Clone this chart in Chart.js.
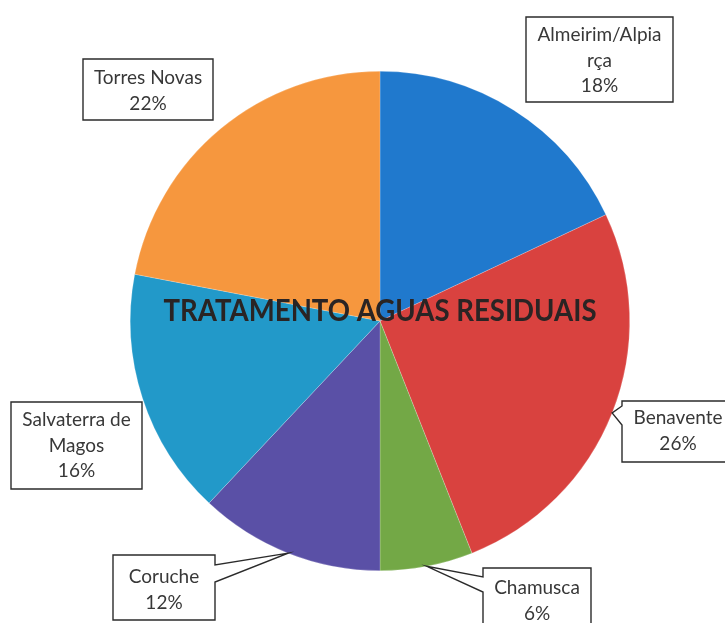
<!DOCTYPE html>
<html>
<head>
<meta charset="utf-8">
<script src="https://cdn.jsdelivr.net/npm/chart.js@4/dist/chart.umd.min.js"></script>
<style>
  html, body { margin: 0; padding: 0; background: #fff; }
  #wrap { width: 725px; height: 623px; position: relative; }
</style>
</head>
<body>
<div id="wrap"><canvas id="c" width="725" height="623"></canvas></div>
<script>
// ---- data ----
const categories = ["Almeirim/Alpiarça", "Benavente", "Chamusca", "Coruche", "Salvaterra de Magos", "Torres Novas"];
const labelLines = [["Almeirim/Alpia", "rça"], ["Benavente"], ["Chamusca"], ["Coruche"], ["Salvaterra de", "Magos"], ["Torres Novas"]];
const values = [18, 26, 6, 12, 16, 22];
const title = "TRATAMENTO AGUAS RESIDUAIS";

// ---- styles / layout ----
const colors = ["#2079cd", "#d9423f", "#73a846", "#5a50a6", "#2299c9", "#f6973e"];
const boxes = [
  { x: 526, y: 17,  w: 147, h: 85, ty: 18, ptr: null },
  { x: 622, y: 401, w: 112, h: 61, ty: 17, ptr: { side: "left",  a: 5,  b: 24 } },
  { x: 483, y: 568, w: 108, h: 62, ty: 20, ptr: { side: "left",  a: 9,  b: 24 } },
  { x: 113, y: 555, w: 102, h: 65, ty: 22, ptr: { side: "right", a: 10, b: 27 } },
  { x: 11,  y: 402, w: 131, h: 87, ty: 18, ptr: null },
  { x: 83,  y: 59,  w: 130, h: 61, ty: 19, ptr: null }
];

const labelPlugin = {
  id: "boxLabels",
  afterDatasetsDraw(chart) {
    const ctx = chart.ctx;
    const meta = chart.getDatasetMeta(0);
    const total = values.reduce((s, v) => s + v, 0);
    // title over the pie
    const arc0 = meta.data[0];
    ctx.save();
    ctx.font = "bold 30px Lato";
    ctx.fillStyle = "#2a2424";
    ctx.textAlign = "center";
    ctx.textBaseline = "middle";
    const tw = ctx.measureText(title).width;
    const sx = 433 / tw;
    ctx.translate(arc0.x, arc0.y - 10);
    ctx.scale(sx, 1);
    ctx.fillText(title, 0, 0);
    ctx.restore();

    meta.data.forEach((arc, i) => {
      const b = boxes[i];
      const mid = (arc.startAngle + arc.endAngle) / 2;
      const tip = { x: arc.x + Math.cos(mid) * arc.outerRadius, y: arc.y + Math.sin(mid) * arc.outerRadius };
      ctx.save();
      ctx.beginPath();
      const L = b.x, R = b.x + b.w, T = b.y, B = b.y + b.h;
      ctx.moveTo(L, T);
      ctx.lineTo(R, T);
      if (b.ptr && b.ptr.side === "right") {
        ctx.lineTo(R, T + b.ptr.a);
        ctx.lineTo(tip.x, tip.y);
        ctx.lineTo(R, T + b.ptr.b);
      }
      ctx.lineTo(R, B);
      ctx.lineTo(L, B);
      if (b.ptr && b.ptr.side === "left") {
        ctx.lineTo(L, T + b.ptr.b);
        ctx.lineTo(tip.x, tip.y);
        ctx.lineTo(L, T + b.ptr.a);
      }
      ctx.closePath();
      ctx.fillStyle = "#ffffff";
      ctx.fill();
      ctx.strokeStyle = "#2b2b2b";
      ctx.lineWidth = 1.4;
      ctx.stroke();

      const lines = labelLines[i].concat([Math.round(values[i] / total * 100) + "%"]);
      ctx.fillStyle = "#383838";
      ctx.font = "19px Lato";
      ctx.textAlign = "center";
      ctx.textBaseline = "middle";
      const lh = 25.5;
      const cx = L + b.w / 2;
      const y0 = T + b.ty;
      lines.forEach((ln, k) => ctx.fillText(ln, cx, y0 + k * lh));
      ctx.restore();
    });
  }
};

new Chart(document.getElementById("c"), {
  type: "pie",
  data: {
    labels: categories,
    datasets: [{
      data: values,
      backgroundColor: colors,
      borderColor: "rgba(255,255,255,0.35)",
      borderWidth: 0.6
    }]
  },
  options: {
    responsive: false,
    animation: false,
    layout: { padding: { top: 71, bottom: 52, left: 130, right: 95 } },
    plugins: { legend: { display: false }, tooltip: { enabled: false } }
  },
  plugins: [labelPlugin]
});
</script>
</body>
</html>
